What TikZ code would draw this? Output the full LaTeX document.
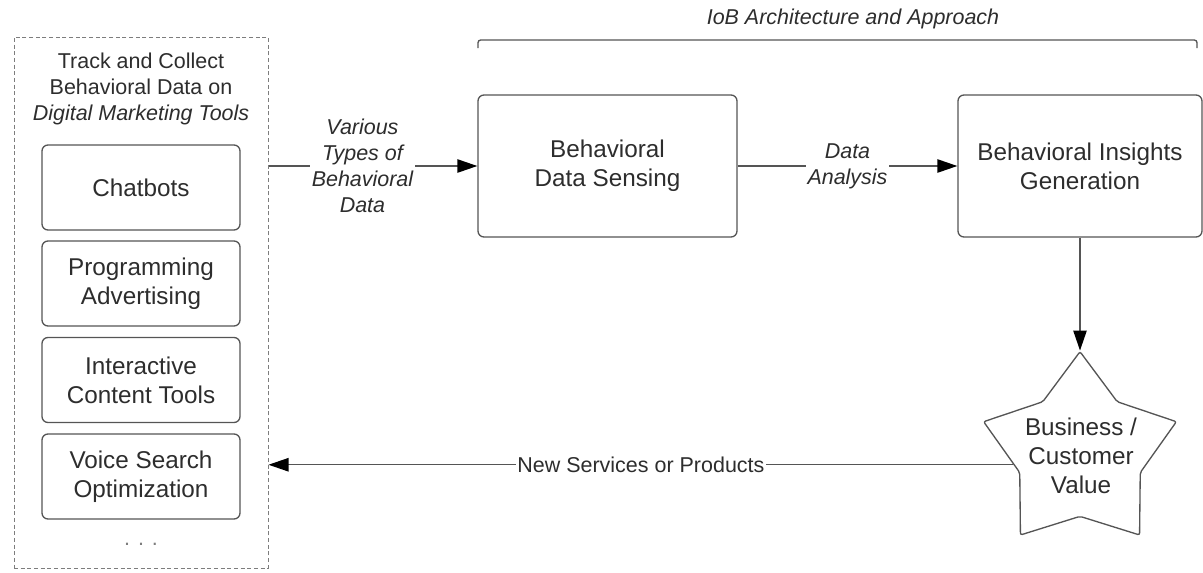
\documentclass[tikz,border=0pt]{standalone}
\usepackage{fontspec}
\setmainfont{Liberation Sans}
\usetikzlibrary{shapes.geometric,arrows.meta}

\definecolor{linegray}{RGB}{85,85,85}
\definecolor{textgray}{RGB}{45,45,45}
\definecolor{dashgray}{RGB}{125,125,125}

\tikzset{every picture/.style={line width=0.75pt}}
\tikzset{
	toolbox/.style={draw=linegray, line width=1pt, rounded corners=4.5pt, minimum width=148.5pt, minimum height=63.75pt, inner sep=0pt, align=center, text=textgray, font=\fontsize{18.2}{21.75}\selectfont},
	stagebox/.style={draw=linegray, line width=1pt, rounded corners=4.5pt, minimum height=106.5pt, inner sep=0pt, align=center, text=textgray, font=\fontsize{18.2}{21.75}\selectfont},
	valuestar/.style={draw=linegray, line width=1pt, star, star points=5, star point ratio=1.6, minimum size=152pt, inner sep=0pt, rounded corners=1.5pt},
	smalltext/.style={align=center, text=textgray, font=\fontsize{16.1}{19.5}\selectfont},
	flowlabel/.style={fill=white, inner sep=1pt, align=center, text=textgray, font=\fontsize{16.1}{19.5}\selectfont\itshape},
	flow/.style={draw=linegray, line width=1.1pt, -{Triangle[length=15pt,width=10pt,color=black]}}
}

\begin{document}
\begin{tikzpicture}[x=0.75pt,y=0.75pt,yscale=-1,xscale=1]
	\useasboundingbox (0,0) rectangle (1203,572);

	%Shape: Dashed Rectangle
	\node[draw=dashgray, dash pattern=on 3pt off 2pt, minimum width=190.5pt, minimum height=398.25pt, inner sep=0pt] (track) at (141,302.5) {};
	% Text Node
	\node[smalltext] (tracktitle) at (141,89) {Track and Collect\\Behavioral Data on\\\textit{Digital Marketing Tools}};

	%Shape: Rectangle
	\node[toolbox] (chatbots) at (141,187.5) {Chatbots};
	%Shape: Rectangle
	\node[toolbox] (advertising) at (141,283.5) {Programming\\Advertising};
	%Shape: Rectangle
	\node[toolbox] (content) at (141,380) {Interactive\\Content Tools};
	%Shape: Rectangle
	\node[toolbox] (voice) at (141,476.5) {Voice Search\\Optimization};
	% Text Node
	\node[smalltext, text=dashgray] (moretools) at (141,544) {. . .};

	%Shape: Rectangle
	\node[stagebox, minimum width=194.25pt] (sensing) at (607.5,166) {Behavioral\\Data Sensing};
	%Shape: Rectangle
	\node[stagebox, minimum width=183pt] (insights) at (1080,166) {Behavioral Insights\\Generation};

	%Shape: Star
	\node[valuestar] (value) at (1080,453) {};
	% Text Node
	\node[align=center, text=textgray, font=\fontsize{18.2}{21.75}\selectfont] (valuetext) at (1081,456) {Business /\\Customer\\Value};

	%Bracket
	\node[smalltext, font=\fontsize{16.1}{19.5}\selectfont\itshape] (ioblabel) at (853,19) {IoB Architecture and Approach};
	\draw[draw=linegray, line width=1pt, rounded corners=2pt] (478,48) -- (478,40) -- (1197,40) -- (1197,48);

	%Straight Lines
	\draw[flow] (track.east |- sensing.west) -- node[flowlabel, pos=0.45] (typeslabel) {Various\\Types of\\Behavioral\\Data} (sensing.west);
	%Straight Lines
	\draw[flow] (sensing.east) -- node[flowlabel] (analysislabel) {Data\\Analysis} (insights.west);
	%Straight Lines
	\draw[flow] (insights.south) -- (value.outer point 1);
	%Straight Lines
	\draw[flow] (value.190) -- node[flowlabel, font=\fontsize{16.1}{19.5}\selectfont] (serviceslabel) {New Services or Products} (value.190 -| track.east);

\end{tikzpicture}
\end{document}
